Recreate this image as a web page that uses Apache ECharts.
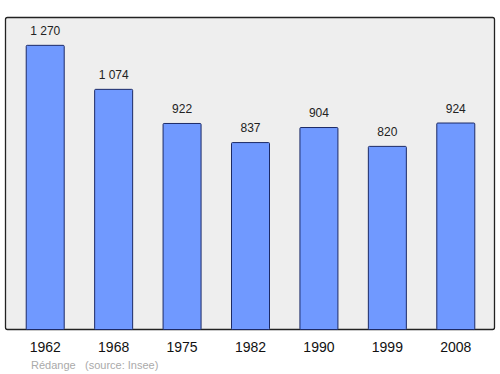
<!DOCTYPE html>
<html><head><meta charset="utf-8">
<script src="https://cdn.jsdelivr.net/npm/echarts@6/dist/echarts.min.js"></script>
<style>html,body{margin:0;padding:0;background:#fff}#c{width:500px;height:374px}</style>
</head><body><div id="c"></div>
<script>
const years = ['1962','1968','1975','1982','1990','1999','2008'];
const population = [1270, 1074, 922, 837, 904, 820, 924];
const labels = ['1 270','1 074','922','837','904','820','924'];
const chart = echarts.init(document.getElementById('c'), null, {renderer:'svg'});
chart.setOption({
  animation:false,
  graphic:[
    {type:'rect', z:-10, shape:{x:5.5,y:17.5,width:489,height:312,r:2}, style:{fill:'#eeeeee',stroke:'#222',lineWidth:1.3}},
    {type:'text', left:31, top:359, style:{text:'Rédange', fill:'#aaaaaa', font:'11px "Liberation Sans", Arial, sans-serif'}},
    {type:'text', left:85, top:359, style:{text:'(source: Insee)', fill:'#aaaaaa', font:'11px "Liberation Sans", Arial, sans-serif'}}
  ],
  grid:{left:11, width:479, top:17, height:313, containLabel:false},
  xAxis:{type:'category', data:years, axisLine:{show:false}, axisTick:{show:false},
    axisLabel:{color:'#111', fontSize:14, fontFamily:'Liberation Sans', margin:10}},
  yAxis:{type:'value', min:0, max:1394, show:false, splitLine:{show:false}},
  series:[{type:'bar', data:population, barWidth:39,
    itemStyle:{color:'#7099ff', borderColor:'#1c2a66', borderWidth:1, borderRadius:1},
    label:{show:true, position:'top', distance:8, color:'#222', fontSize:12, fontFamily:'Liberation Sans',
      formatter:p=>labels[p.dataIndex]}}]
});
</script></body></html>
